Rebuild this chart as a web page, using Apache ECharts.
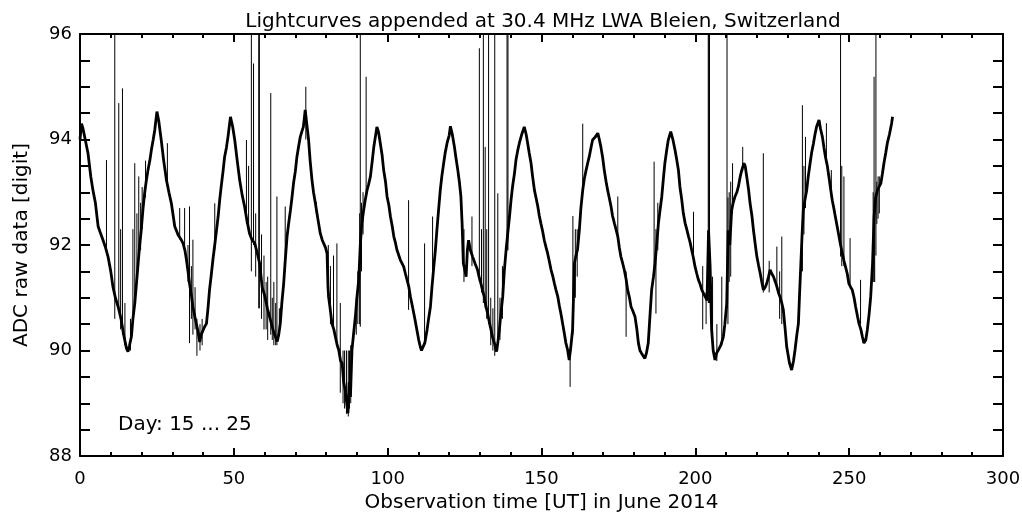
<!DOCTYPE html>
<html>
<head>
<meta charset="utf-8">
<script src="https://cdn.jsdelivr.net/npm/echarts@6/dist/echarts.min.js"></script>
<style>html,body{margin:0;padding:0;background:#fff;}#c{width:1022px;height:513px;}</style>
</head>
<body>
<div id="c"></div>
<script>
// Main light curve: [hours, ADC value]
const curveTime = [0,0.5,1.0,2.6,3.5,4.2,5.0,5.9,6.5,7.5,8.3,9.1,10.0,10.7,11.5,12.4,13.4,14.2,15.1,15.6,16.1,16.7,17.2,17.8,18.4,18.9,19.4,19.9,20.5,21.0,21.5,22.1,22.7,23.2,23.8,24.3,25.0,25.6,26.4,27.2,28.1,28.9,29.7,30.3,30.8,31.9,32.7,33.5,34.1,34.6,35.1,35.6,36.2,36.7,37.3,37.8,38.4,38.9,39.4,40.0,40.5,41.1,41.6,42.1,42.7,43.2,44.0,44.9,45.4,45.9,46.5,47.0,47.6,48.1,48.9,49.6,50.3,51.1,51.9,52.7,53.5,54.3,55.1,55.9,56.8,57.6,58.4,59.2,60.0,60.9,61.9,62.7,63.5,64.1,64.6,65.1,65.6,66.2,66.7,67.3,67.8,68.4,68.9,69.4,70.0,70.5,71.0,71.6,72.1,72.6,73.2,73.7,74.3,74.8,75.4,75.9,76.5,77.3,78.1,78.7,79.2,79.8,80.3,80.6,80.8,81.3,81.9,82.5,83.0,83.6,84.1,84.7,85.2,85.7,86.2,86.7,87.1,87.5,87.9,88.4,88.9,89.5,90.0,90.6,91.1,91.6,92.2,92.7,93.3,93.8,94.4,95.0,95.5,96.0,96.5,97.0,97.6,98.2,98.7,99.3,99.8,100.4,100.9,101.5,102.0,102.5,103.0,104.1,105.2,105.8,106.3,106.9,107.4,108.0,108.5,109.0,109.5,110.1,110.6,111.0,111.4,112.1,112.8,113.3,113.9,114.4,114.9,115.5,116.0,116.6,117.1,117.6,118.2,118.7,119.3,120.0,120.4,121.0,121.7,122.2,122.8,123.3,123.8,124.2,124.6,125.0,125.5,125.9,126.3,126.9,127.6,128.4,129.2,129.7,130.3,130.8,131.4,131.9,132.5,133.0,133.6,134.1,134.7,135.4,135.8,136.3,136.8,137.4,137.9,138.5,139.0,139.6,140.1,140.6,141.2,141.7,142.3,142.8,143.6,144.4,145.0,145.5,146.0,146.6,147.1,147.7,148.2,148.8,149.3,149.8,150.4,150.9,151.5,152.0,152.5,153.1,153.7,154.2,154.7,155.3,155.8,156.3,156.9,157.4,157.9,158.5,159.0,159.5,160.1,160.4,160.7,161.2,161.7,162.3,162.8,163.4,163.9,164.5,165.0,165.5,166.1,166.6,167.5,168.3,168.8,169.3,169.9,170.4,171.0,171.5,172.0,172.6,173.1,173.7,174.2,174.8,175.3,175.8,176.4,176.9,177.5,178.0,178.6,179.1,179.7,180.4,181.0,181.5,182.0,182.5,183.6,184.1,184.7,185.3,185.8,186.4,186.9,187.5,188.0,188.5,189.1,189.6,190.1,190.7,191.2,192.0,192.7,193.4,194.0,194.5,195.0,195.6,196.1,196.7,197.2,197.8,198.3,198.8,199.4,199.9,200.5,201.0,201.6,202.1,202.7,203.2,203.8,204.3,204.8,205.3,205.8,206.4,206.9,207.5,208.3,209.1,209.6,210.2,210.7,211.2,211.8,212.3,212.9,213.5,214.0,214.6,215.1,215.8,216.2,216.7,217.3,217.8,218.4,218.9,219.5,220.0,220.6,221.1,221.6,222.1,222.7,223.2,223.8,224.3,224.9,225.4,226.0,226.5,227.0,227.5,228.1,228.6,229.2,229.7,230.2,230.6,231.3,231.9,232.4,233.0,233.5,233.9,234.3,234.7,235.1,235.6,236.2,236.7,237.3,237.8,238.4,238.9,239.4,240.2,240.7,241.3,241.8,242.3,242.9,243.4,244.0,244.5,245.0,245.5,246.1,246.7,247.2,247.8,248.3,248.8,249.4,249.9,250.5,251.0,251.6,252.1,252.7,253.2,253.8,254.3,254.8,255.4,255.9,256.5,257.0,257.6,258.1,258.6,259.2,259.7,260.3,260.8,261.3,261.9,262.4,263.1,263.8,264.1];
const curveValue = [94.0,94.3,94.2,93.74,93.3,93.04,92.8,92.35,92.25,92.09,91.95,91.78,91.5,91.21,91.0,90.83,90.58,90.3,90.04,89.98,90.1,90.26,90.6,90.89,91.3,91.65,92.0,92.28,92.7,92.98,93.2,93.42,93.6,93.8,94.0,94.18,94.53,94.35,93.99,93.6,93.23,93.0,92.79,92.55,92.35,92.19,92.12,92.03,91.9,91.72,91.5,91.27,91.05,90.83,90.65,90.51,90.35,90.16,90.3,90.3,90.45,90.51,90.8,91.15,91.45,91.72,92.1,92.54,92.85,93.11,93.4,93.67,93.85,94.05,94.43,94.25,93.99,93.6,93.23,92.95,92.73,92.45,92.22,92.1,92.03,91.85,91.65,91.2,91.05,90.8,90.58,90.4,90.26,90.17,90.3,90.51,90.9,91.27,91.7,92.16,92.4,92.66,92.9,93.17,93.4,93.67,93.85,94.05,94.15,94.24,94.56,94.3,93.99,93.6,93.23,93.0,92.79,92.5,92.22,92.1,92.03,91.95,91.84,91.2,91.02,90.8,90.51,90.4,90.26,90.1,90.01,89.8,89.76,89.4,89.25,89.0,88.81,89.4,89.12,90.01,90.3,90.64,91.0,91.34,92.0,92.4,92.66,92.85,93.04,93.15,93.3,93.6,93.86,94.05,94.24,94.15,93.93,93.7,93.42,93.2,92.92,92.75,92.54,92.35,92.16,92.05,91.91,91.72,91.59,91.45,91.34,91.2,91.02,90.85,90.7,90.55,90.39,90.2,90.07,90.0,89.98,90.15,90.39,90.6,90.83,91.2,91.53,91.9,92.28,92.7,93.04,93.3,93.55,93.75,93.93,94.08,94.25,94.1,93.86,93.65,93.42,93.2,92.92,92.4,91.65,91.55,91.4,91.9,92.09,91.9,91.78,91.65,91.53,91.4,91.27,91.15,91.02,90.85,90.7,90.55,90.39,90.25,90.14,89.98,90.15,90.39,90.7,91.02,91.5,91.91,92.2,92.54,92.85,93.11,93.35,93.61,93.8,93.93,94.1,94.24,94.1,93.93,93.75,93.55,93.3,93.04,92.9,92.73,92.55,92.41,92.25,92.09,91.95,91.84,91.7,91.53,91.4,91.27,91.15,91.02,90.85,90.7,90.5,90.33,90.15,90.01,89.82,90.05,90.39,91.0,91.65,91.8,91.91,92.28,92.7,93.04,93.25,93.42,93.55,93.67,93.85,93.99,94.05,94.12,94.0,93.86,93.65,93.42,93.2,93.04,92.9,92.73,92.55,92.41,92.3,92.16,91.95,91.78,91.65,91.53,91.35,91.15,91.0,90.83,90.75,90.64,90.4,90.14,90.0,89.95,89.85,89.95,90.14,90.7,91.15,91.4,91.65,92.05,92.41,92.65,92.92,93.25,93.55,93.8,93.99,94.15,94.0,93.8,93.6,93.42,93.1,92.85,92.6,92.41,92.3,92.16,92.05,91.91,91.75,91.59,91.45,91.34,91.25,91.15,91.08,91.02,90.95,92.28,91.6,90.39,90.0,89.82,89.95,90.01,90.1,90.26,90.5,90.89,92.28,92.0,92.66,92.8,92.92,93.0,93.11,93.3,93.42,93.55,93.5,93.3,93.05,92.79,92.55,92.28,92.0,91.78,91.6,91.46,91.3,91.15,91.2,91.27,91.4,91.53,91.45,91.4,91.3,91.21,91.1,91.02,90.9,90.77,90.4,90.07,89.9,89.76,89.63,89.8,90.01,90.3,90.51,91.1,91.65,92.2,92.66,92.85,93.04,93.3,93.55,93.75,93.93,94.1,94.24,94.37,94.2,94.05,93.85,93.67,93.5,93.3,93.05,92.85,92.7,92.54,92.35,92.16,92.0,91.84,91.7,91.59,91.45,91.27,91.2,91.15,91.0,90.83,90.65,90.51,90.4,90.26,90.14,90.2,90.39,90.7,91.02,91.65,92.54,92.9,93.04,93.1,93.17,93.35,93.55,93.75,93.93,94.1,94.31,94.43];

// Interference spikes and jitter: time, lower end, upper end (97 = off scale)
const spikeTime = [8.6,11.3,12.6,13.2,13.8,14.6,16.4,17.2,17.8,18.5,19.1,19.7,20.2,21.3,28.4,32.4,34.0,35.1,35.6,36.2,36.7,37.4,38.0,39.0,39.7,43.8,54.1,54.8,55.7,56.4,57.1,58.1,58.3,59.0,59.8,60.5,61.0,62.0,62.5,63.0,63.6,64.0,64.8,66.7,73.4,76.8,80.7,81.4,82.4,83.5,84.6,85.5,86.0,86.6,87.2,87.6,88.0,89.8,90.3,90.9,91.1,91.5,92.0,93.0,106.8,112.0,114.6,124.8,127.4,129.8,130.5,131.1,131.7,132.2,132.8,133.5,134.2,134.8,135.8,136.5,137.3,138.8,139.1,159.3,160.2,161.0,161.6,163.4,174.8,177.5,186.6,187.2,187.8,199.4,202.4,203.5,204.2,204.4,204.6,205.6,207.0,208.6,210.3,210.6,211.0,211.5,212.1,215.4,222.1,224.0,226.5,227.4,228.1,234.8,235.3,235.8,242.6,244.2,247.2,247.6,248.3,250.3,253.7,257.8,258.1,258.3,258.7,259.0,259.4,259.8];
const spikeLow = [91.9,90.6,90.8,90.4,90.3,90.1,90.0,90.6,90.9,91.3,91.8,91.9,92.3,92.9,93.2,92.1,91.9,91.3,90.14,90.6,90.3,90.4,89.9,90.0,90.1,91.9,92.4,92.3,91.5,92.0,91.4,90.8,90.8,90.6,90.4,90.4,90.2,90.3,90.2,90.1,90.1,90.1,90.3,91.5,94.0,92.6,91.0,90.5,90.4,90.1,89.2,89.0,88.9,88.8,88.75,88.9,89.0,90.3,90.5,90.5,90.45,91.5,92.2,92.9,90.77,90.1,91.3,91.3,91.6,91.3,91.1,90.9,90.8,90.6,90.5,90.1,90.0,89.9,90.1,90.2,90.6,91.9,91.9,89.31,90.3,91.0,91.4,93.0,92.1,90.26,91.5,90.7,91.9,91.7,90.4,90.5,90.9,90.9,90.9,90.0,89.8,90.1,90.8,90.5,91.3,91.4,92.6,93.4,91.1,91.1,91.2,90.6,90.5,91.5,92.2,92.7,93.6,92.9,91.78,91.6,91.6,91.2,90.5,91.3,91.3,91.3,91.8,92.4,92.5,92.6];
const spikeHigh = [93.61,97,94.69,92.3,94.97,90.9,90.6,92.3,93.55,92.6,93.3,92.8,93.1,93.6,93.93,92.7,92.7,92.0,92.73,91.6,92.1,91.2,90.6,90.5,90.6,92.79,93.99,93.5,97,95.44,92.6,97,97,92.2,91.8,91.3,91.4,94.88,91.0,91.3,90.9,92.92,90.8,92.73,95.0,92.82,92.0,91.6,91.8,92.03,90.9,90.0,90.0,90.0,90.0,90.0,90.1,91.0,91.5,92.6,97,92.8,93.0,95.19,92.85,92.03,92.54,92.3,92.54,95.73,92.3,97,93.86,92.3,97,91.0,90.8,97,92.98,91.0,91.6,97,97,90.0,92.55,92.3,92.3,94.3,92.92,91.5,93.58,92.3,92.8,92.63,91.6,91.1,97,97,97,91.4,90.5,91.4,97,92.9,93.0,93.2,93.55,93.86,93.74,91.7,91.97,91.5,92.16,94.65,93.5,94.05,94.31,93.42,97,93.5,93.3,92.13,91.34,93.0,95.19,92.8,97,93.2,93.3,93.3];

const xTicks = {min: 0, max: 300, step: 50};
const yTicks = {min: 88, max: 96, step: 2};

const titleText = 'Lightcurves appended at 30.4 MHz LWA Bleien, Switzerland';
const xTitle = 'Observation time [UT] in June 2014';
const yTitle = 'ADC raw data [digit]';
const noteText = 'Day: 15 ... 25';

const curveData = curveTime.map((t, i) => [t, curveValue[i]]);
const spikeData = [];
spikeTime.forEach((t, i) => {
  spikeData.push([t, spikeLow[i]]);
  spikeData.push([t, spikeHigh[i]]);
  spikeData.push([t, null]);
});

const FONT = 'DejaVu Sans';
const black = '#000';
function xAx(pos, showLabel) {
  return {
    type: 'value', position: pos, min: xTicks.min, max: xTicks.max, interval: xTicks.step,
    axisLine: {show: true, onZero: false, lineStyle: {color: black, width: 2}},
    axisTick: {show: true, inside: true, length: 8, lineStyle: {color: black, width: 2}},
    minorTick: {show: true, splitNumber: 5, length: 4, lineStyle: {color: black, width: 2}},
    splitLine: {show: false},
    axisLabel: {show: showLabel, color: black, fontFamily: FONT, fontSize: 18, margin: 14},
    name: showLabel ? xTitle : '', nameLocation: 'middle', nameGap: 35,
    nameTextStyle: {color: black, fontFamily: FONT, fontSize: 20}
  };
}
function yAx(pos, showLabel) {
  return {
    type: 'value', position: pos, min: yTicks.min, max: yTicks.max, interval: yTicks.step,
    axisLine: {show: true, onZero: false, lineStyle: {color: black, width: 2}},
    axisTick: {show: true, inside: true, length: 10, lineStyle: {color: black, width: 2}},
    minorTick: {show: true, splitNumber: 4, length: 10, lineStyle: {color: black, width: 2}},
    splitLine: {show: false},
    axisLabel: {show: showLabel, color: black, fontFamily: FONT, fontSize: 18, margin: 8},
    name: showLabel ? yTitle : '', nameLocation: 'middle', nameGap: 48,
    nameTextStyle: {color: black, fontFamily: FONT, fontSize: 20}
  };
}

const chart = echarts.init(document.getElementById('c'), null, {renderer: 'canvas'});
chart.setOption({
  animation: false,
  backgroundColor: '#fff',
  title: {text: titleText, left: 538, top: 7, textAlign: 'center',
    textStyle: {color: black, fontFamily: FONT, fontSize: 20, fontWeight: 'normal'}},
  grid: {left: 80, right: 19, top: 34, bottom: 57, containLabel: false, outerBoundsMode: 'none'},
  xAxis: [xAx('bottom', true), xAx('top', false)],
  yAxis: [yAx('left', true), yAx('right', false)],
  graphic: [{type: 'text', left: 118, top: 415,
    style: {text: noteText, fill: black, font: '20px "DejaVu Sans"'}}],
  series: [
    {type: 'line', data: spikeData, showSymbol: false, symbol: 'none', clip: true,
      connectNulls: false, lineStyle: {color: black, width: 1}, silent: true},
    {type: 'line', data: curveData, showSymbol: false, symbol: 'none', clip: true,
      lineStyle: {color: black, width: 2.8}, silent: true}
  ]
});
</script>
</body>
</html>
